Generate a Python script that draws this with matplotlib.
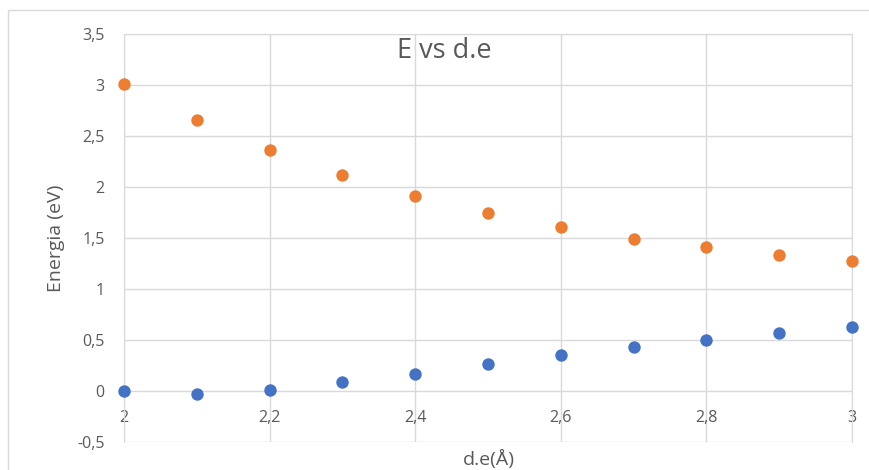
import matplotlib.pyplot as plt
from matplotlib.ticker import FuncFormatter, MultipleLocator
from matplotlib.patches import Rectangle

# distancia (Å) y energias (eV)
d_e = [2.0, 2.1, 2.2, 2.3, 2.4, 2.5, 2.6, 2.7, 2.8, 2.9, 3.0]
e_azul = [0.0, -0.03, 0.01, 0.09, 0.17, 0.26, 0.35, 0.43, 0.50, 0.57, 0.63]
e_naranja = [3.01, 2.66, 2.36, 2.12, 1.91, 1.75, 1.61, 1.49, 1.41, 1.33, 1.27]

plt.rcParams['font.family'] = ['Open Sans', 'DejaVu Sans']
gris = '#d9d9d9'
texto = '#595959'

fig = plt.figure(figsize=(8.69, 4.70), dpi=100)
ax = fig.add_axes([124 / 869, 28 / 470, 728 / 869, 408 / 470])

# marco exterior del grafico
fig.patches.append(Rectangle((8 / 869, -0.1), 1.2, (470 - 10) / 470 + 0.1,
                             transform=fig.transFigure, fill=False,
                             edgecolor=gris, linewidth=1))

ax.scatter(d_e, e_azul, s=80, color='#4472C4', zorder=3, clip_on=False, linewidths=0)
ax.scatter(d_e, e_naranja, s=80, color='#ED7D31', zorder=3, clip_on=False, linewidths=0)

ax.set_xlim(2, 3)
ax.set_ylim(-0.5, 3.5)
ax.xaxis.set_major_locator(MultipleLocator(0.2))
ax.yaxis.set_major_locator(MultipleLocator(0.5))

coma = FuncFormatter(lambda v, p: ('%g' % round(v, 2)).replace('.', ',').replace('−', '-'))
ax.xaxis.set_major_formatter(coma)
ax.yaxis.set_major_formatter(coma)

ax.grid(True, color=gris, linewidth=1)
ax.set_axisbelow(True)
for s in ['left', 'right', 'top']:
    ax.spines[s].set_color(gris)
ax.spines['bottom'].set_position(('data', 0))
ax.spines['bottom'].set_visible(False)

ax.tick_params(axis='both', length=0, labelsize=11.5, labelcolor=texto)
ax.tick_params(axis='x', pad=14)
ax.tick_params(axis='y', pad=14)

fig.text(444 / 869, 1 - 58 / 470, 'E vs d.e', ha='center', va='baseline',
         fontsize=19.5, color=texto)
fig.text(56 / 869, 1 - 238 / 470, 'Energia (eV)', rotation=90, ha='center', va='center',
         fontsize=14, color=texto)
fig.text(489 / 869, 1 - 459 / 470, 'd.e(Å)', ha='center', va='center',
         fontsize=14, color=texto)

fig.savefig('out.png', dpi=100)
